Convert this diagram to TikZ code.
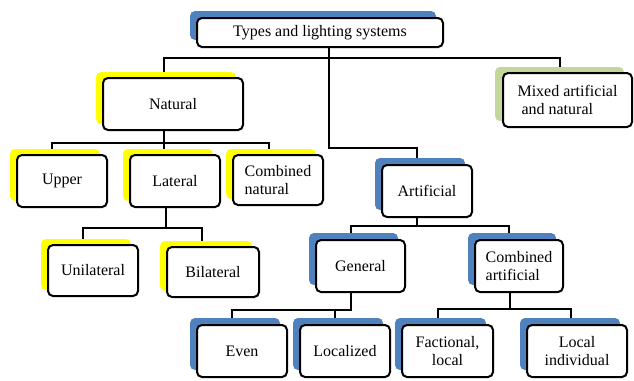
\documentclass[tikz,border=0pt]{standalone}
\usepackage{fontspec}
\setmainfont{Liberation Serif}
\usetikzlibrary{shadows,backgrounds}
\definecolor{shyel}{HTML}{FFFF00}
\definecolor{shblue}{HTML}{4F81BD}
\definecolor{shgreen}{HTML}{C3D69B}
\begin{document}
\begin{tikzpicture}[x=1pt,y=-1pt,
  box/.style={draw, line width=2pt, rounded corners=5pt, fill=white, align=center,
    inner sep=0pt, minimum width=90pt, minimum height=52pt,
    font=\fontsize{16}{17.5}\selectfont},
  ysh/.style={general shadow={fill=shyel, shadow xshift=-7pt, shadow yshift=6pt}},
  bsh/.style={general shadow={fill=shblue, shadow xshift=-7pt, shadow yshift=7pt}},
  gsh/.style={general shadow={fill=shgreen, shadow xshift=-8pt, shadow yshift=6pt}},
  wire/.style={line width=1.8pt}]
\useasboundingbox (0,0) rectangle (634,380);

\node[box, bsh, minimum width=246pt, minimum height=29pt] (top) at (320,32.5) {Types and lighting systems};
\node[box, ysh, minimum width=140pt] (nat) at (173,104) {Natural};
\node[box, gsh, minimum width=129pt, minimum height=54pt, align=left] (mix) at (567.5,100) {Mixed artificial\\\hspace*{4pt}and natural};
\node[box, ysh] (upp) at (62,181) {Upper};
\node[box, ysh] (lat) at (175,181) {Lateral};
\node[box, ysh, minimum height=50pt, align=left] (cnat) at (278,180) {Combined\\natural};
\node[box, ysh, minimum height=51pt] (uni) at (93,270.5) {Unilateral};
\node[box, ysh, minimum width=92pt, minimum height=50pt] (bil) at (213,272) {Bilateral};
\node[box, bsh] (art) at (427,191) {Artificial};
\node[box, bsh, minimum width=89pt] (gen) at (360.5,266) {General};
\node[box, bsh, minimum width=88pt, align=left] (cart) at (519,266) {Combined\\artificial};
\node[box, bsh] (even) at (242,351) {Even};
\node[box, bsh] (loc) at (345,351) {Localized};
\node[box, bsh, minimum width=91pt] (fac) at (447.5,351) {Factional,\\local};
\node[box, bsh, minimum width=100pt] (lind) at (577,351) {Local\\individual};

\coordinate (t1) at (329,148);
\coordinate (b0) at (329,58);
\coordinate (b1) at (0,143);
\coordinate (b2) at (0,228);
\coordinate (b3) at (0,226);
\coordinate (b4) at (0,310);
\coordinate (b5) at (0,309);

\begin{scope}[on background layer]
  \fill[white] (0,0) rectangle (634,380);
  \begin{scope}[wire]
  \draw (t1 |- top.south) -- (t1) -| ([xshift=-10pt]art.north);
  \draw ([xshift=-9pt]nat.north) |- (b0) -| ([xshift=-7.5pt]mix.north);
  \draw ([xshift=-9pt]nat.south) -- ([xshift=-9pt]nat.south |- b1);
  \draw ([xshift=-10pt]upp.north) |- ([xshift=-9pt]cnat.north |- b1) -- ([xshift=-9pt]cnat.north);
  \draw ([xshift=-11pt]lat.north) -- ([xshift=-11pt]lat.north |- b1);
  \draw ([xshift=-9pt]lat.south) -- ([xshift=-9pt]lat.south |- b2);
  \draw ([xshift=-10pt]uni.north) |- ([xshift=-11pt]bil.north |- b2) -- ([xshift=-11pt]bil.north);
  \draw ([xshift=-10pt]art.south) -- ([xshift=-10pt]art.south |- b3);
  \draw ([xshift=-9.5pt]gen.north) |- ([xshift=-10pt]cart.north |- b3) -- ([xshift=-10pt]cart.north);
  \draw ([xshift=-9.5pt]gen.south) |- ([xshift=-10pt]even.north |- b4) -- ([xshift=-10pt]even.north);
  \draw ([xshift=-10pt]loc.north) -- ([xshift=-10pt]loc.north |- b4);
  \draw ([xshift=-9pt]cart.south) -- ([xshift=-9pt]cart.south |- b5);
  \draw ([xshift=-9.5pt]fac.north) |- ([xshift=-6pt]lind.north |- b5) -- ([xshift=-6pt]lind.north);
  \end{scope}
\end{scope}
\end{tikzpicture}
\end{document}
